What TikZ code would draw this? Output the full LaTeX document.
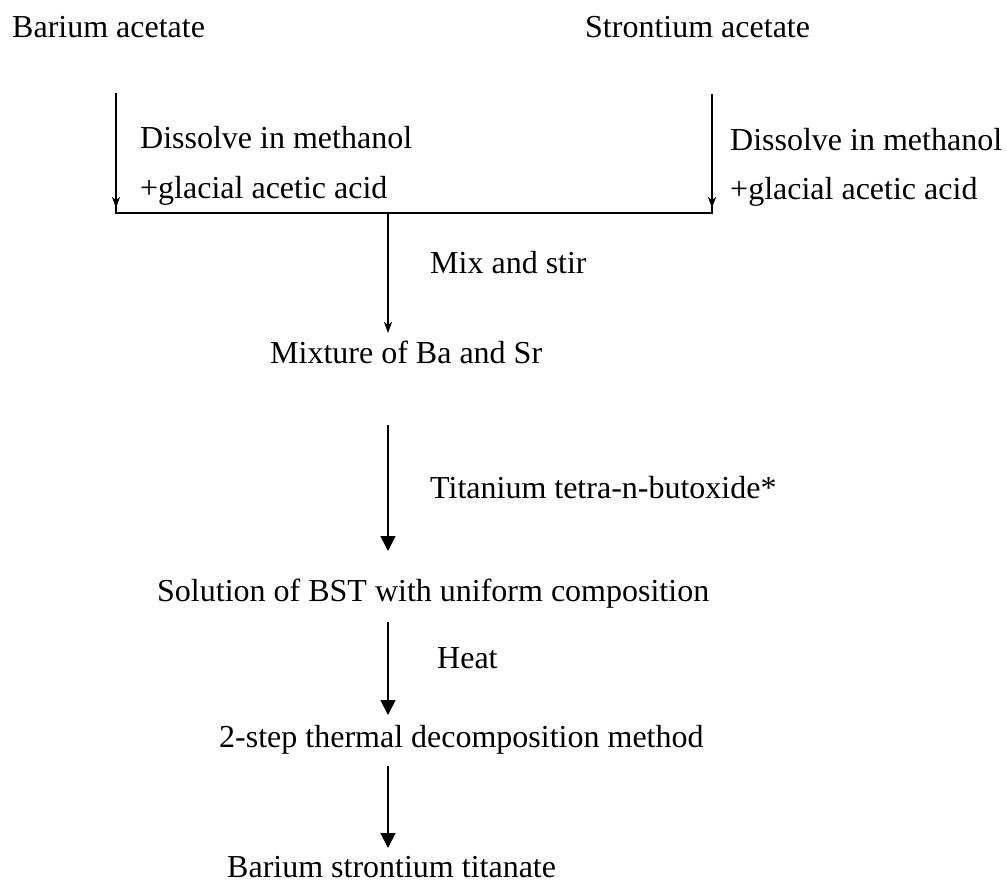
\documentclass[tikz,border=0pt]{standalone}
\usepackage{fontspec}
\setmainfont{Liberation Serif}
\usetikzlibrary{arrows.meta}

\begin{document}
\begin{tikzpicture}[x=1pt, y=-1pt,
    txt/.style={font=\fontsize{32}{38}\selectfont, inner sep=0pt, anchor=base west},
    line/.style={line width=1.7pt},
    thinarrow/.style={line, -{Stealth[length=11pt, width=8pt, inset=3pt]}},
    bigarrow/.style={line, -{Triangle[length=15pt, width=15pt]}}
]
\useasboundingbox (0,0) rectangle (1007,882);

% Starting materials
\node[txt] (ba) at (12,38) {Barium acetate};
\node[txt] (sa) at (585,38) {Strontium acetate};

% Dissolution
\node[txt] (dis1) at (140,149) {Dissolve in methanol};
\node[txt] (acid1) at (140,199) {+glacial acetic acid};
\node[txt] (dis2) at (730,151) {Dissolve in methanol};
\node[txt] (acid2) at (730,200) {+glacial acetic acid};

\coordinate (ba top) at (116,93);
\coordinate (ba end) at (116,213);
\coordinate (sa top) at (712,94);
\coordinate (sa end) at (712,213);
\coordinate (join) at (388,213);
\coordinate (join end) at (388,333);

\draw[line] (ba top) -- (ba end) -- (sa end) -- (sa top);
\draw[thinarrow, shorten >=5pt] (ba top) -- (ba end);
\draw[thinarrow, shorten >=5pt] (sa top) -- (sa end);
\draw[thinarrow] (join) -- (join end);
\node[txt] (stir) at (430,274) {Mix and stir};

% Mixture
\node[txt] (mix) at (270,364) {Mixture of Ba and Sr};
\coordinate (a2 start) at (388,425);
\coordinate (a2 end) at (388,551);
\draw[bigarrow] (a2 start) -- (a2 end);
\node[txt] (ti) at (430,498) {Titanium tetra-n-butoxide*};

% Solution
\node[txt] (sol) at (157,601) {Solution of BST with uniform composition};
\coordinate (a3 start) at (388,622);
\coordinate (a3 end) at (388,715);
\draw[bigarrow] (a3 start) -- (a3 end);
\node[txt] (heat) at (437,668) {Heat};

% Decomposition
\node[txt] (dec) at (219,747) {2-step thermal decomposition method};
\coordinate (a4 start) at (388,766);
\coordinate (a4 end) at (388,848);
\draw[bigarrow] (a4 start) -- (a4 end);

% Product
\node[txt] (bst) at (227,877) {Barium strontium titanate};
\end{tikzpicture}
\end{document}
